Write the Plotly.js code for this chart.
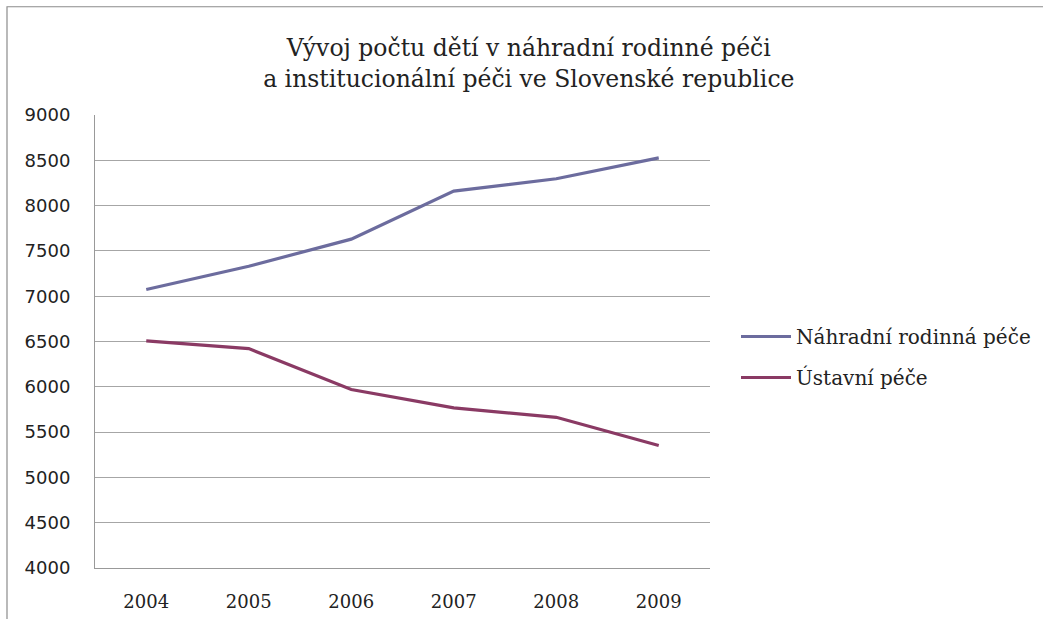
<!DOCTYPE html>
<html>
<head>
<meta charset="utf-8">
<script src="https://cdn.plot.ly/plotly-3.0.1.min.js"></script>
<style>
html,body{margin:0;padding:0;background:#fff;}
#chart{width:1043px;height:619px;}
</style>
</head>
<body>
<div id="chart"></div>
<script>
const years = ['2004','2005','2006','2007','2008','2009'];
const nahradni = [7074, 7330, 7630, 8160, 8296, 8526];
const ustavni = [6507, 6422, 5970, 5767, 5663, 5352];
const seriesNames = ['Náhradní rodinná péče', 'Ústavní péče'];
const titleText = 'Vývoj počtu dětí v náhradní rodinné péči<br>a institucionální péči ve Slovenské republice';
const SERIF = 'DejaVu Serif, serif';

const traces = [
  {x: years, y: nahradni, name: seriesNames[0], type: 'scatter', mode: 'lines', legendgroup: 'a',
   line: {color: '#6c6c9e', width: 3.2}},
  {x: years, y: ustavni, name: seriesNames[1], type: 'scatter', mode: 'lines', legendgroup: 'b',
   line: {color: '#8a3a64', width: 3.2}}
];

const layout = {
  width: 1043, height: 619,
  margin: {l: 95, r: 333, t: 115, b: 51},
  paper_bgcolor: '#fff', plot_bgcolor: '#fff',
  showlegend: true,
  font: {family: SERIF},
  title: {text: titleText, font: {family: SERIF, size: 23.5, color: '#222'},
          xref: 'container', x: 0.507, xanchor: 'center', yref: 'container', y: 1 - 56/619, yanchor: 'middle'},
  xaxis: {type: 'category', range: [-0.5, 5.5], showgrid: false, showline: true, linecolor: '#999', linewidth: 1,
          ticks: '', tickfont: {family: SERIF, size: 18, color: '#222'}, ticklabelstandoff: 17, zeroline: false},
  yaxis: {range: [4000, 9000], dtick: 500, tick0: 4000, showgrid: true, gridcolor: '#a6a6a6', gridwidth: 1,
          showline: true, linecolor: '#999', linewidth: 1, ticks: '', zeroline: false,
          tickfont: {family: 'DejaVu Sans', size: 18, color: '#222'}, ticklabelstandoff: 20},
  legend: {xref: 'container', yref: 'container', x: 736/1043, y: 1 - 357/619, xanchor: 'left', yanchor: 'middle',
           font: {family: SERIF, size: 20, color: '#222'},
           tracegroupgap: 12, itemwidth: 50, bgcolor: 'rgba(0,0,0,0)'},
  shapes: [
    {type: 'rect', xref: 'paper', yref: 'paper', x0: (7-95)/615, x1: 1.7, y0: -0.3, y1: (568-8)/452,
     line: {color: '#8c8c8c', width: 1.2}, fillcolor: 'rgba(0,0,0,0)', layer: 'below'}
  ]
};

Plotly.newPlot('chart', traces, layout, {displayModeBar: false, staticPlot: true});
</script>
</body>
</html>
